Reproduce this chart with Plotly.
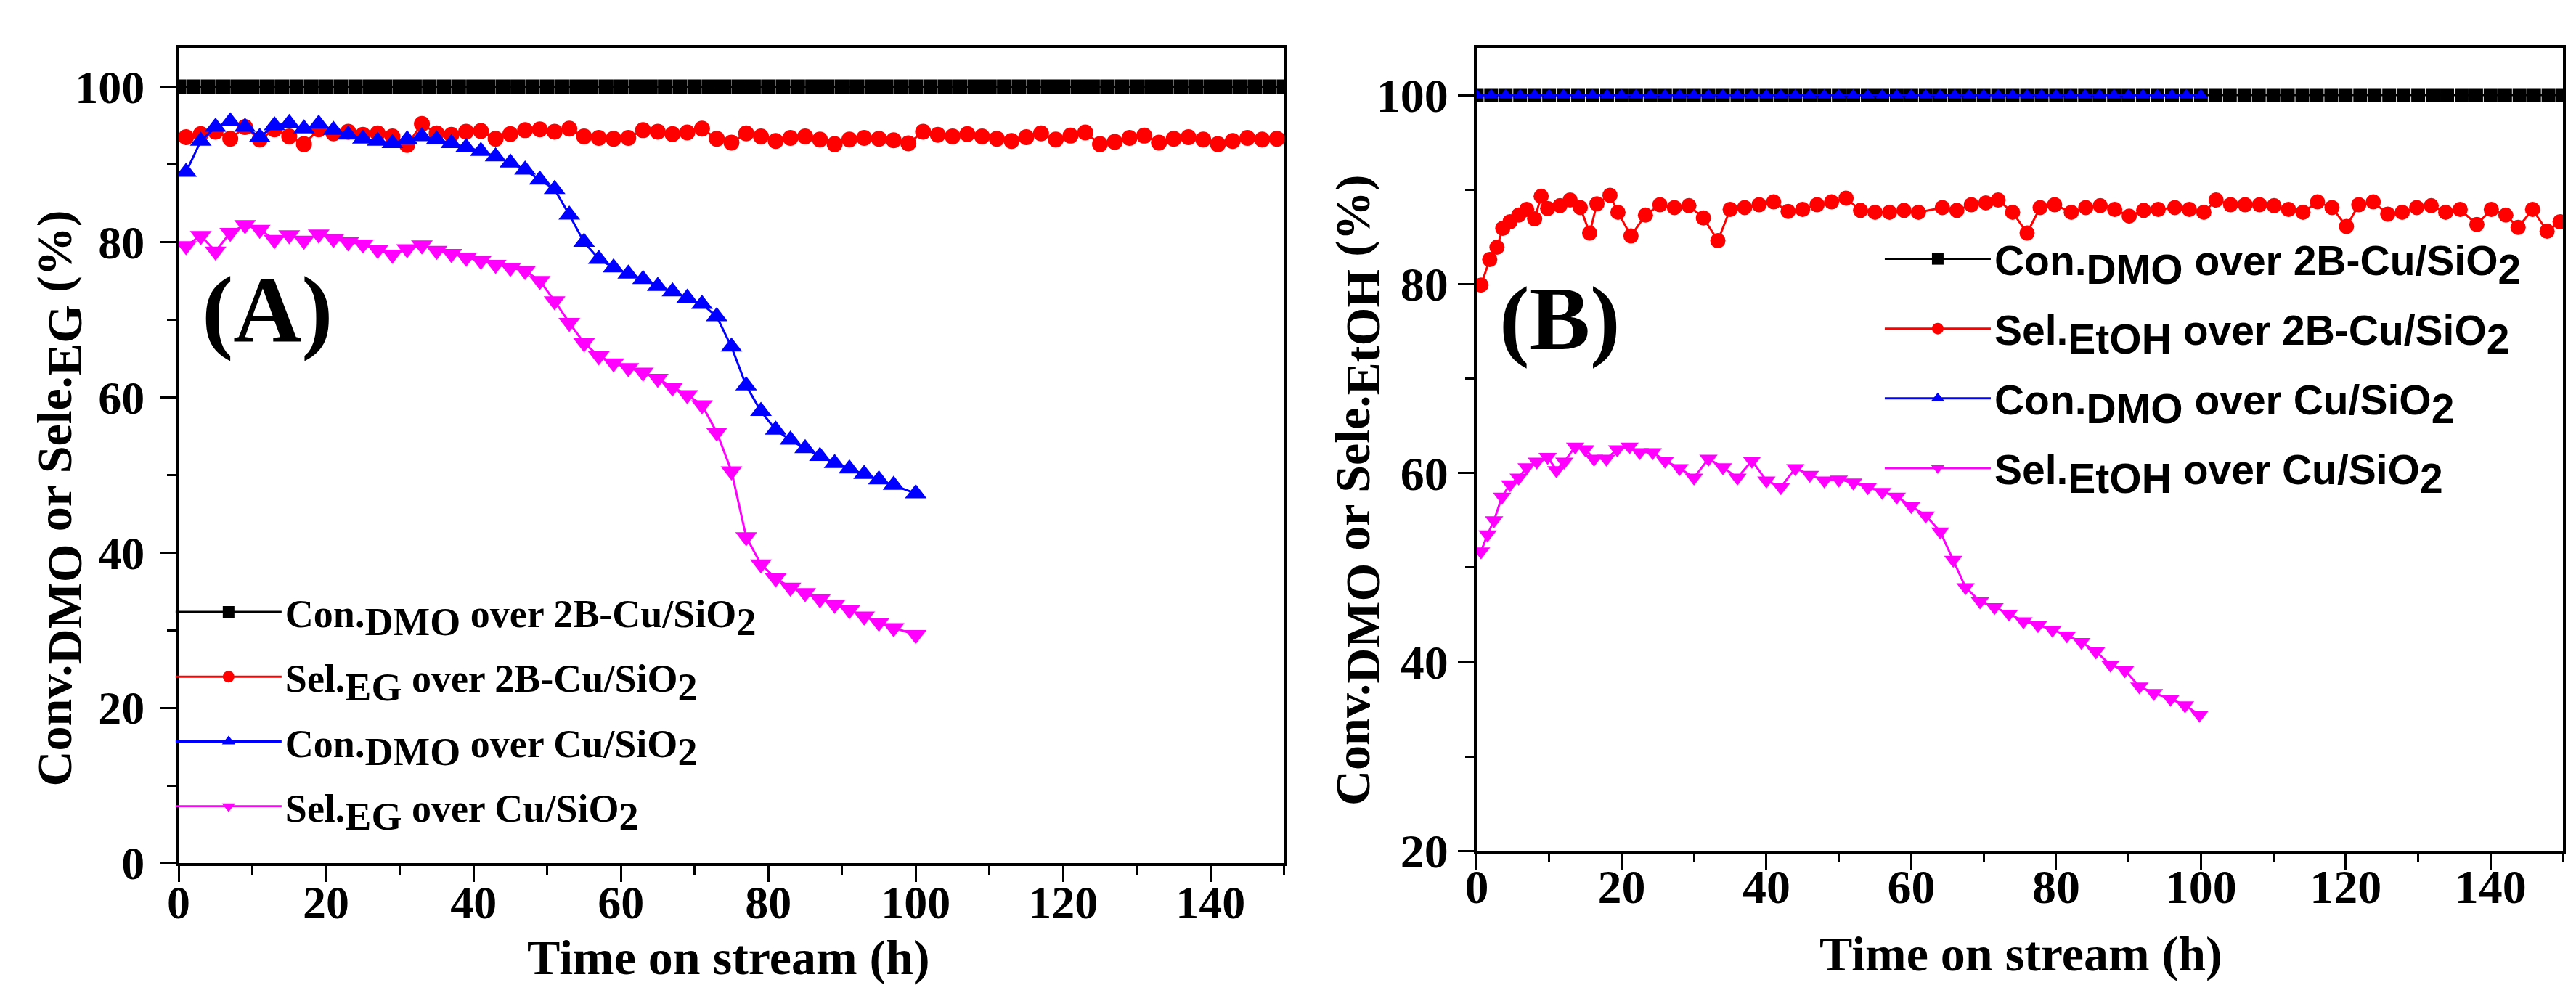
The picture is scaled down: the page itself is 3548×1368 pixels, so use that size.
import plotly.graph_objects as go

# ---- panel A : DMO hydrogenation to EG ----
time_black_a = [0, 2, 4, 6, 8, 10, 12, 14, 16, 18, 20, 22, 24, 26, 28, 30, 32, 34, 36, 38,
                40, 42, 44, 46, 48, 50, 52, 54, 56, 58, 60, 62, 64, 66, 68, 70, 72, 74, 76, 78,
                80, 82, 84, 86, 88, 90, 92, 94, 96, 98, 100, 102, 104, 106, 108, 110, 112, 114,
                116, 118, 120, 122, 124, 126, 128, 130, 132, 134, 136, 138, 140, 142, 144, 146,
                148, 150]
conv_2b_a = [100, 100, 100, 100, 100, 100, 100, 100, 100, 100, 100, 100, 100, 100, 100, 100,
             100, 100, 100, 100, 100, 100, 100, 100, 100, 100, 100, 100, 100, 100, 100, 100,
             100, 100, 100, 100, 100, 100, 100, 100, 100, 100, 100, 100, 100, 100, 100, 100,
             100, 100, 100, 100, 100, 100, 100, 100, 100, 100, 100, 100, 100, 100, 100, 100,
             100, 100, 100, 100, 100, 100, 100, 100, 100, 100, 100, 100]

time_red_a = [1, 3, 5, 7, 9, 11, 13, 15, 17, 19, 21, 23, 25, 27, 29, 31, 33, 35, 37, 39,
              41, 43, 45, 47, 49, 51, 53, 55, 57, 59, 61, 63, 65, 67, 69, 71, 73, 75, 77, 79,
              81, 83, 85, 87, 89, 91, 93, 95, 97, 99, 101, 103, 105, 107, 109, 111, 113, 115,
              117, 119, 121, 123, 125, 127, 129, 131, 133, 135, 137, 139, 141, 143, 145, 147, 149]
sel_2b_a = [93.5, 93.9, 94.2, 93.3, 94.8, 93.2, 94.5, 93.6, 92.6, 94.5, 94.0, 94.2, 93.8, 94.0,
            93.6, 92.5, 95.2, 94.0, 93.8, 94.2, 94.3, 93.3, 93.9, 94.4, 94.5, 94.2, 94.6, 93.6,
            93.4, 93.3, 93.4, 94.4, 94.2, 93.9, 94.1, 94.6, 93.3, 92.8, 94.0, 93.6, 93.0, 93.4,
            93.6, 93.2, 92.6, 93.2, 93.4, 93.3, 93.1, 92.7, 94.2, 93.8, 93.6, 93.9, 93.6, 93.3,
            93.0, 93.5, 94.0, 93.2, 93.7, 94.1, 92.6, 92.9, 93.4, 93.7, 92.8, 93.3, 93.5, 93.2,
            92.6, 93.0, 93.4, 93.2, 93.3]

time_cu_a = [1, 3, 5, 7, 9, 11, 13, 15, 17, 19, 21, 23, 25, 27, 29, 31, 33, 35, 37, 39,
             41, 43, 45, 47, 49, 51, 53, 55, 57, 59, 61, 63, 65, 67, 69, 71, 73, 75, 77, 79,
             81, 83, 85, 87, 89, 91, 93, 95, 97, 100]
conv_cu_a = [89.0, 93.0, 94.8, 95.5, 94.8, 93.5, 95.0, 95.3, 94.6, 95.2, 94.4, 93.8, 93.3, 93.0,
             92.7, 93.2, 93.6, 93.2, 92.7, 92.2, 91.7, 91.0, 90.2, 89.3, 88.0, 86.8, 83.5, 80.0,
             77.8, 76.7, 75.9, 75.2, 74.3, 73.6, 72.8, 72.0, 70.4, 66.5, 61.5, 58.2, 55.8, 54.5,
             53.4, 52.4, 51.5, 50.8, 50.1, 49.4, 48.7, 47.6]
sel_cu_a = [79.5, 80.8, 78.8, 81.2, 82.2, 81.6, 80.3, 80.9, 80.2, 81.0, 80.4, 80.0, 79.7, 79.0,
            78.4, 79.1, 79.6, 78.9, 78.5, 78.0, 77.6, 77.1, 76.7, 76.3, 75.0, 72.4, 69.6, 67.0,
            65.3, 64.4, 63.8, 63.2, 62.4, 61.3, 60.3, 59.0, 55.5, 50.5, 42.0, 38.5, 36.7, 35.5,
            34.8, 34.0, 33.3, 32.6, 31.8, 31.0, 30.3, 29.4]

# ---- panel B : DMO hydrogenation to EtOH ----
time_black_b = time_black_a
conv_2b_b = conv_2b_a

time_blue_b = [0, 2, 4, 6, 8, 10, 12, 14, 16, 18, 20, 22, 24, 26, 28, 30, 32, 34, 36, 38,
               40, 42, 44, 46, 48, 50, 52, 54, 56, 58, 60, 62, 64, 66, 68, 70, 72, 74, 76, 78,
               80, 82, 84, 86, 88, 90, 92, 94, 96, 98, 100]
conv_cu_b = [100, 100, 100, 100, 100, 100, 100, 100, 100, 100, 100, 100, 100, 100, 100, 100,
             100, 100, 100, 100, 100, 100, 100, 100, 100, 100, 100, 100, 100, 100, 100, 100,
             100, 100, 100, 100, 100, 100, 100, 100, 100, 100, 100, 100, 100, 100, 100, 100,
             100, 100, 100]

time_red_b = [0.6, 1.8, 2.8, 3.6, 4.6, 5.8, 6.9, 8.0, 8.9, 9.8, 11.5, 12.9, 14.3, 15.6, 16.6,
              18.4, 19.5, 21.3, 23.3, 25.3, 27.3, 29.3, 31.3, 33.3, 35.0, 37.0, 39.0, 41.0,
              43.0, 45.0, 47.0, 49.0, 51.0, 53.0, 55.0, 57.0, 59.0, 61.0, 64.3, 66.3, 68.3,
              70.3, 72.0, 74.0, 76.0, 77.8, 79.8, 82.1, 84.1, 86.1, 88.1, 90.1, 92.1, 94.1,
              96.4, 98.4, 100.4, 102.1, 104.1, 106.1, 108.1, 110.1, 112.1, 114.1, 116.1, 118.1,
              120.1, 121.8, 123.8, 125.8, 127.8, 129.8, 131.8, 133.8, 135.8, 138.1, 140.1,
              142.1, 143.8, 145.8, 147.8, 149.6]
sel_2b_b = [79.9, 82.6, 83.9, 85.9, 86.6, 87.3, 87.9, 86.9, 89.3, 88.0, 88.3, 88.9, 88.1, 85.4,
            88.5, 89.4, 87.6, 85.1, 87.3, 88.4, 88.1, 88.3, 87.0, 84.6, 87.9, 88.1, 88.4, 88.7,
            87.7, 87.9, 88.4, 88.7, 89.1, 87.8, 87.6, 87.6, 87.8, 87.6, 88.1, 87.8, 88.4, 88.6,
            88.9, 87.6, 85.4, 88.1, 88.4, 87.6, 88.1, 88.3, 87.9, 87.2, 87.8, 87.9, 88.1, 87.9,
            87.6, 88.9, 88.4, 88.4, 88.4, 88.3, 87.9, 87.6, 88.7, 88.1, 86.1, 88.4, 88.7, 87.4,
            87.6, 88.1, 88.3, 87.6, 87.9, 86.3, 87.9, 87.3, 86.0, 87.9, 85.6, 86.6]

time_mag_b = [0.6, 1.5, 2.4, 3.5, 4.6, 5.8, 6.9, 8.3, 9.8, 11.0, 12.1, 13.6, 15.0, 16.2, 17.9,
              19.4, 21.1, 22.5, 24.3, 26.0, 28.0, 30.0, 32.0, 34.0, 36.0, 38.0, 40.0, 42.0,
              44.0, 46.0, 48.0, 50.0, 52.0, 54.0, 56.0, 58.0, 60.0, 62.0, 64.0, 65.8, 67.5,
              69.5, 71.5, 73.5, 75.5, 77.5, 79.5, 81.5, 83.5, 85.5, 87.5, 89.5, 91.5, 93.5,
              95.8, 97.8, 99.8]
sel_cu_b = [51.7, 53.5, 55.0, 57.5, 58.8, 59.5, 60.6, 61.2, 61.7, 60.3, 61.2, 62.8, 62.5, 61.5,
            61.5, 62.5, 62.8, 62.2, 62.2, 61.3, 60.5, 59.5, 61.5, 60.6, 59.5, 61.3, 59.2, 58.5,
            60.5, 59.8, 59.2, 59.3, 59.0, 58.5, 58.0, 57.5, 56.5, 55.5, 53.8, 50.8, 47.9, 46.4,
            45.8, 45.1, 44.3, 43.9, 43.4, 42.8, 42.1, 41.1, 39.7, 39.1, 37.4, 36.7, 36.1, 35.4,
            34.4]

SERIF = "Liberation Serif"
SANS = "Liberation Sans"


def big_sub(txt, size):
    # subscript kept at full font size, like the original figure
    return '<sub><span style="font-size:%dpx">%s</span></sub>' % (size, txt)


fig = go.Figure()

la = 54
lb = 57
names_a = ["Con." + big_sub("DMO", la) + " over 2B-Cu/SiO" + big_sub("2", la),
           "Sel." + big_sub("EG", la) + " over 2B-Cu/SiO" + big_sub("2", la),
           "Con." + big_sub("DMO", la) + " over Cu/SiO" + big_sub("2", la),
           "Sel." + big_sub("EG", la) + " over Cu/SiO" + big_sub("2", la)]
names_b = ["Con." + big_sub("DMO", lb) + " over 2B-Cu/SiO" + big_sub("2", lb),
           "Sel." + big_sub("EtOH", lb) + " over 2B-Cu/SiO" + big_sub("2", lb),
           "Con." + big_sub("DMO", lb) + " over Cu/SiO" + big_sub("2", lb),
           "Sel." + big_sub("EtOH", lb) + " over Cu/SiO" + big_sub("2", lb)]

series_a = [(time_black_a, conv_2b_a, "#000000", "square", 20),
            (time_red_a, sel_2b_a, "#ff0000", "circle", 22),
            (time_cu_a, conv_cu_a, "#0000ff", "triangle-up", 26),
            (time_cu_a, sel_cu_a, "#ff00ff", "triangle-down", 26)]
series_b = [(time_black_b, conv_2b_b, "#000000", "square", 19),
            (time_red_b, sel_2b_b, "#ff0000", "circle", 21),
            (time_blue_b, conv_cu_b, "#0000ff", "triangle-up", 17),
            (time_mag_b, sel_cu_b, "#ff00ff", "triangle-down", 22)]

for i, (x, y, c, sym, sz) in enumerate(series_a):
    fig.add_trace(go.Scatter(x=x, y=y, mode="lines+markers", name=names_a[i],
                             line=dict(color=c, width=3),
                             marker=dict(color=c, symbol=sym, size=sz, line=dict(width=0)),
                             xaxis="x", yaxis="y", legend="legend", legendgroup="a%d" % i))

for i, (x, y, c, sym, sz) in enumerate(series_b):
    fig.add_trace(go.Scatter(x=x, y=y, mode="lines+markers", name=names_b[i],
                             line=dict(color=c, width=3),
                             marker=dict(color=c, symbol=sym, size=sz, line=dict(width=0)),
                             xaxis="x2", yaxis="y2", legend="legend2", legendgroup="b%d" % i))

axis_style = dict(showline=True, linecolor="black", linewidth=4, mirror=True,
                  ticks="outside", ticklen=22, tickwidth=3, tickcolor="black",
                  minor=dict(ticks="outside", ticklen=12, tickwidth=3, tickcolor="black", dtick=10),
                  dtick=20, tick0=0, showgrid=False, zeroline=False, automargin=False)

tick_font = dict(family=SERIF, size=64, color="black", weight="bold")
title_font = dict(family=SERIF, size=68, color="black", weight="bold")

ytitle_a = "Conv." + big_sub("DMO", 68) + " or Sele." + big_sub("EG", 68) + " (%)"
ytitle_b = "Conv." + big_sub("DMO", 68) + " or Sele." + big_sub("EtOH", 68) + " (%)"

fig.update_layout(
    width=3548, height=1368,
    margin=dict(l=0, r=0, t=0, b=0),
    paper_bgcolor="white", plot_bgcolor="white",
    showlegend=True,
    xaxis=dict(axis_style, domain=[0.0671, 0.4963], range=[0, 150], anchor="y",
               tickfont=tick_font, ticklabelstandoff=-27),
    yaxis=dict(axis_style, domain=[0.1367, 0.9576], range=[0, 105], anchor="x",
               tickfont=tick_font, ticklabelstandoff=8),
    xaxis2=dict(axis_style, domain=[0.571, 0.9927], range=[0, 150], anchor="y2",
                tickfont=dict(tick_font, size=66), ticklabelstandoff=-33),
    yaxis2=dict(axis_style, domain=[0.149, 0.9576], range=[20, 105], anchor="x2",
                tickfont=dict(tick_font, size=66), ticklabelstandoff=0),
    legend=dict(x=0.0645, y=0.42, xanchor="left", yanchor="top", bgcolor="rgba(0,0,0,0)",
                font=dict(family=SERIF, size=la, color="black", weight="bold"),
                tracegroupgap=16, itemwidth=146),
    legend2=dict(x=0.728, y=0.777, xanchor="left", yanchor="top", bgcolor="rgba(0,0,0,0)",
                 font=dict(family=SANS, size=lb, color="black", weight="bold"),
                 tracegroupgap=19, itemwidth=146),
    annotations=[
        # axis titles
        dict(text="Time on stream (h)", x=0.2805, y=0.042, xref="paper", yref="paper",
             xanchor="center", yanchor="middle", showarrow=False, font=title_font),
        dict(text="Time on stream (h)", x=0.7822, y=0.045, xref="paper", yref="paper",
             xanchor="center", yanchor="middle", showarrow=False, font=title_font),
        dict(text=ytitle_a, x=0.0206, y=0.504, xref="paper", yref="paper", textangle=-90,
             xanchor="center", yanchor="middle", showarrow=False, font=title_font),
        dict(text=ytitle_b, x=0.5248, y=0.5124, xref="paper", yref="paper", textangle=-90,
             xanchor="center", yanchor="middle", showarrow=False, font=title_font),
        # panel labels
        dict(text="(A)", x=12, y=71.3, xref="x", yref="y", showarrow=False,
             font=dict(family=SERIF, size=130, color="black", weight="bold")),
        dict(text="(B)", x=11.5, y=76.3, xref="x2", yref="y2", showarrow=False,
             font=dict(family=SERIF, size=125, color="black", weight="bold")),
    ],
)

fig.write_html("out.html")
